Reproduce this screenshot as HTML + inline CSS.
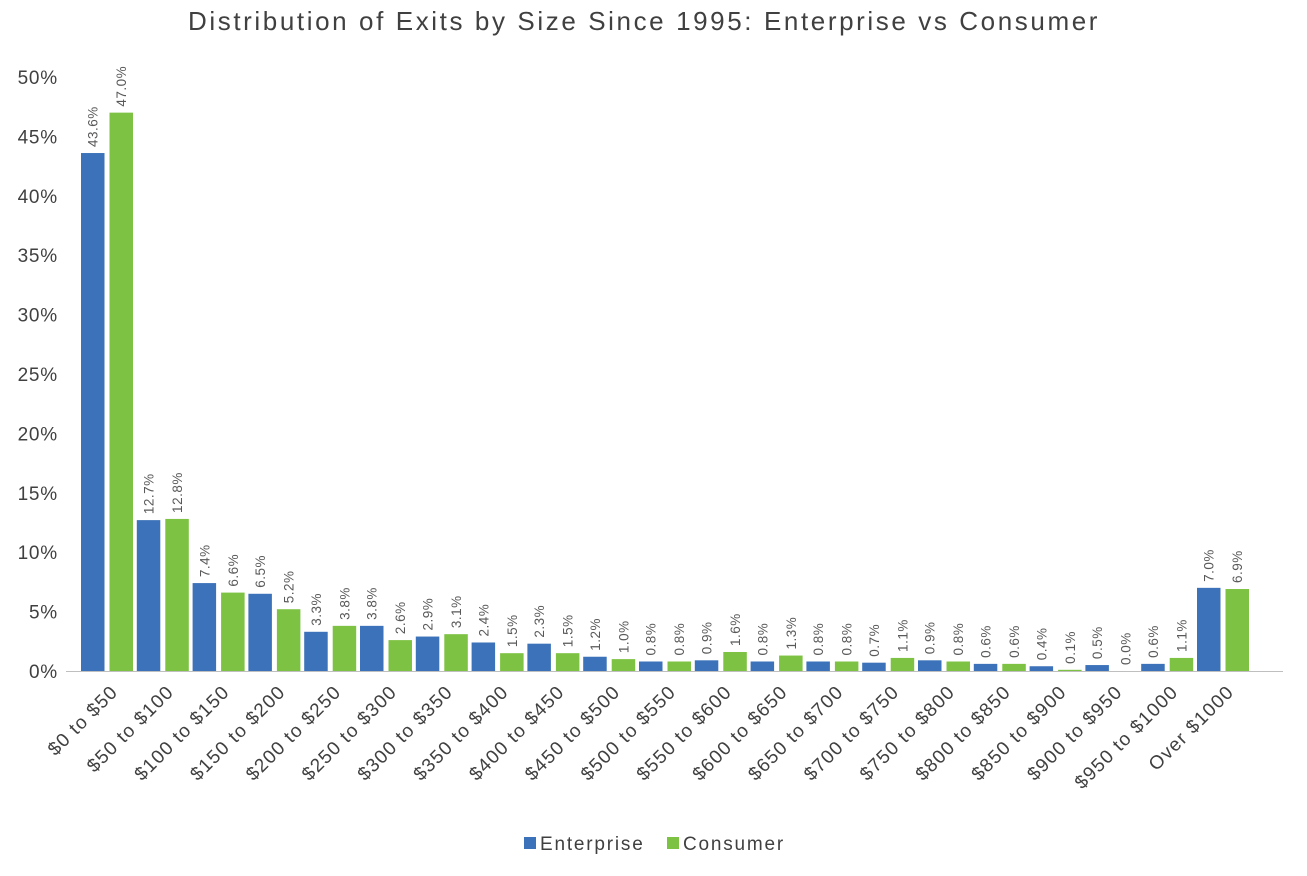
<!DOCTYPE html>
<html><head><meta charset="utf-8">
<style>
html,body{margin:0;padding:0;background:#fff;}
svg{display:block;font-family:"Liberation Sans",sans-serif;}
</style></head>
<body>
<svg id="chart" width="1307" height="876" viewBox="0 0 1307 876">
<text x="644" y="30" text-anchor="middle" font-size="26" letter-spacing="2.6" fill="#404040">Distribution of Exits by Size Since 1995: Enterprise vs Consumer</text>
<g id="yaxis"></g>
<g id="bars"></g>
<g id="xaxis"></g>
<g>
<rect x="524" y="837" width="12" height="12" fill="#3C72B9"/>
<text x="540" y="850" font-size="19" letter-spacing="1.8" fill="#404040">Enterprise</text>
<rect x="667" y="837" width="12" height="12" fill="#7DC242"/>
<text x="683" y="850" font-size="19" letter-spacing="1.8" fill="#404040">Consumer</text>
</g>
</svg>
<script>
const categories=["$0 to $50","$50 to $100","$100 to $150","$150 to $200","$200 to $250","$250 to $300","$300 to $350","$350 to $400","$400 to $450","$450 to $500","$500 to $550","$550 to $600","$600 to $650","$650 to $700","$700 to $750","$750 to $800","$800 to $850","$850 to $900","$900 to $950","$950 to $1000","Over $1000"];
const enterprise=[43.6,12.7,7.4,6.5,3.3,3.8,2.9,2.4,2.3,1.2,0.8,0.9,0.8,0.8,0.7,0.9,0.6,0.4,0.5,0.6,7.0];
const consumer=[47.0,12.8,6.6,5.2,3.8,2.6,3.1,1.5,1.5,1.0,0.8,1.6,1.3,0.8,1.1,0.8,0.6,0.1,0.0,1.1,6.9];
const yTicks=[0,5,10,15,20,25,30,35,40,45,50];
const NS="http://www.w3.org/2000/svg";
const y0=671,y50=77;
function y(v){return y0-(v/50)*(y0-y50);}
function xc(i){return 107+i*55.8;}
function mk(t,a,p){const e=document.createElementNS(NS,t);for(const k in a)e.setAttribute(k,a[k]);p.appendChild(e);return e;}
const ya=document.getElementById('yaxis'),bars=document.getElementById('bars'),xa=document.getElementById('xaxis');
yTicks.forEach(t=>{
 const e=mk('text',{x:58,y:y(t)+7,'text-anchor':'end','font-size':19,'letter-spacing':0.8,fill:'#404040'},ya);
 
 
 e.textContent=t+'%';
});
const ax=mk('line',{x1:66,x2:1283,y1:y0+0.5,y2:y0+0.5,stroke:'#bfbfbf','stroke-width':1},xa);


const bw=23.5;
function drawBar(v,x,col,name){
 const r=mk('rect',{x:x,y:y(v),width:bw,height:y0-y(v),fill:col},bars);
 
 
 const lx=x+bw/2+5,ly=y(v)-6;
 const t=mk('text',{x:lx,y:ly,transform:`rotate(-90 ${lx} ${ly})`,'font-size':13.5,'letter-spacing':0.5,fill:'#595959'},bars);
 
 
 t.textContent=v.toFixed(1)+'%';
}
categories.forEach((c,i)=>{
 const cx=xc(i);
 drawBar(enterprise[i],cx-bw-2.5,'#3C72B9','bar-enterprise');
 drawBar(consumer[i],cx+2.5,'#7DC242','bar-consumer');
 const lx=cx+12,ly=y0+22;
 const t=mk('text',{x:lx,y:ly,transform:`rotate(-45 ${lx} ${ly})`,'text-anchor':'end','font-size':19,'letter-spacing':1.2,fill:'#404040'},xa);
 
 
 t.textContent=c;
});
</script>
</body></html>
